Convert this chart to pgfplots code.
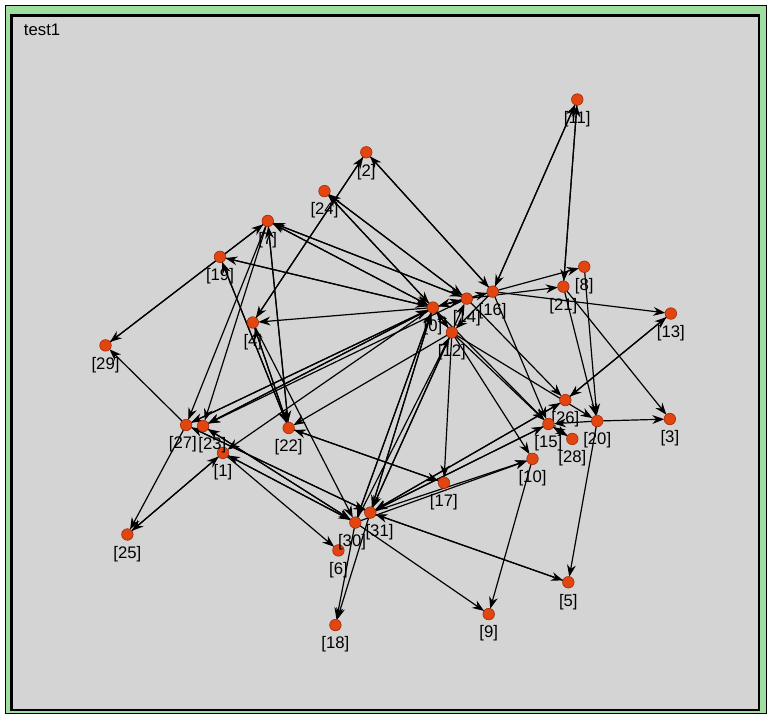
\documentclass[border=0pt]{standalone}
\usepackage{pgfplots}
\pgfplotsset{compat=1.18}
\usepackage{fontspec}
\setmainfont{Liberation Sans}
\usetikzlibrary{arrows.meta}
\definecolor{panel}{RGB}{212,212,212}
\definecolor{rim}{RGB}{160,222,160}
\definecolor{vert}{RGB}{226,70,16}
\definecolor{vertedge}{RGB}{160,40,10}

% graph nodes, pixel coordinates (y downwards)
\pgfplotstableread{
x y id
580 100 11
368 153 2
326 192 24
269 222 7
221 258 19
254 324 4
106 347 29
587 268 8
566 288 21
674 315 13
435 309 0
469 300 14
495 293 16
454 334 12
290 430 22
224 455 1
128 537 25
568 402 26
600 423 20
673 421 3
551 426 15
575 441 28
535 461 10
446 485 17
340 553 6
337 628 18
491 617 9
571 585 5
}\vertices
% crowded pairs, labelled to either side
\pgfplotstableread{
x y id
187 427 27
357 525 30
}\leftvertices
\pgfplotstableread{
x y id
204 428 23
372 515 31
}\rightvertices

% directed edges: from (x,y) to (x2,y2)
\pgfplotstableread{
x y x2 y2
580 100 566 288
566 288 580 100
580 100 495 293
495 293 580 100
368 153 254 324
254 324 368 153
368 153 495 293
495 293 368 153
326 192 435 309
435 309 326 192
326 192 469 300
469 300 326 192
269 222 435 309
435 309 269 222
269 222 469 300
469 300 269 222
269 222 106 347
106 347 269 222
269 222 187 427
269 222 204 428
269 222 290 430
290 430 269 222
435 309 221 258
221 258 435 309
221 258 290 430
290 430 221 258
435 309 254 324
254 324 290 430
290 430 254 324
254 324 357 525
187 427 106 347
435 309 187 427
187 427 435 309
435 309 204 428
204 428 435 309
469 300 204 428
187 427 128 537
128 537 224 455
224 455 128 537
204 428 357 525
357 525 204 428
187 427 372 515
372 515 187 427
224 455 357 525
357 525 224 455
435 309 224 455
224 455 340 553
454 334 290 430
290 430 446 485
446 485 290 430
357 525 435 309
435 309 357 525
372 515 435 309
435 309 372 515
357 525 454 334
454 334 372 515
372 515 469 300
357 525 337 628
372 515 337 628
357 525 491 617
372 515 571 585
571 585 372 515
535 461 491 617
600 423 571 585
454 334 446 485
454 334 535 461
454 334 551 426
454 334 600 423
469 300 568 402
495 293 551 426
435 309 551 426
469 300 566 288
495 293 587 268
495 293 674 315
435 309 495 293
495 293 435 309
435 309 469 300
469 300 435 309
435 309 454 334
454 334 435 309
495 293 454 334
566 288 600 423
587 268 600 423
566 288 673 421
674 315 568 402
568 402 674 315
600 423 673 421
600 423 551 426
575 441 551 426
551 426 575 441
372 515 568 402
568 402 372 515
372 515 551 426
551 426 372 515
357 525 535 461
372 515 535 461
}\edges

\begin{document}
\begin{tikzpicture}
\pgfplotsset{
    vertex/.style={only marks, mark=*, mark size=2.9pt,
        mark options={fill=vert, draw=vertedge, line width=0.3pt},
        point meta=explicit symbolic,
        nodes near coords={[\pgfplotspointmeta]},
        nodes near coords style={anchor=north, yshift=-5.2pt, inner sep=0.5pt,
            font=\fontsize{8.4}{9}\selectfont, text=black}},
}
\begin{axis}[
    scale only axis,
    width=383.5pt,
    height=359pt,
    xmin=0, xmax=767,
    ymin=0, ymax=718,
    y dir=reverse,
    axis lines=none,
    clip=false,
]
% window frame
\fill[white] (axis cs:0,0) rectangle (axis cs:767,718);
\filldraw[fill=rim, draw=black, line width=0.6pt] (axis cs:5.5,5.5) rectangle (axis cs:770,717);
\filldraw[fill=panel, draw=black, line width=1.2pt] (axis cs:11.5,15.5) rectangle (axis cs:762.5,713.5);
\node[anchor=west, font=\fontsize{8.4}{9}\selectfont] at (axis cs:17,30) {test1};

% edges
\addplot[black, line width=0.6pt, -{Stealth[length=6pt,width=4.4pt]}, shorten >=2.8pt,
    quiver={u=\thisrow{x2}-\thisrow{x}, v=\thisrow{y2}-\thisrow{y}}]
    table[x=x, y=y] {\edges};

% vertices with labels
\addplot[vertex] table[x=x, y=y, meta=id] {\vertices};
\addplot[vertex, nodes near coords style={anchor=north east, xshift=6pt}]
    table[x=x, y=y, meta=id] {\leftvertices};
\addplot[vertex, nodes near coords style={anchor=north west, xshift=-3pt}]
    table[x=x, y=y, meta=id] {\rightvertices};
\end{axis}
\end{tikzpicture}
\end{document}
